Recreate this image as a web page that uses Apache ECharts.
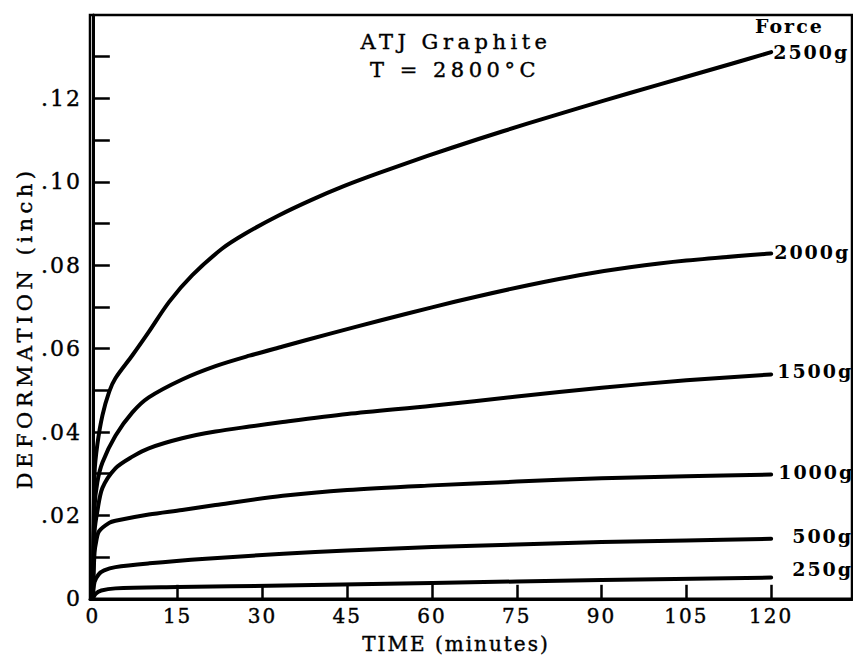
<!DOCTYPE html>
<html>
<head>
<meta charset="utf-8">
<title>ATJ Graphite creep, T = 2800°C</title>
<script src="https://cdn.jsdelivr.net/npm/echarts@6/dist/echarts.min.js"></script>
<style>
  html, body { margin: 0; padding: 0; background: #fff; }
  #chart { width: 853px; height: 659px; }
  /* typewriter-like spacing of the lettering */
  #chart text { letter-spacing: 2px; }
  #chart text[style*="21px"] { letter-spacing: 4.5px; }
</style>
</head>
<body>
<div id="chart"></div>
<script>
// Deformation (inch) against time (minutes) for each applied force
const force2500 = [[0,0],[0.3,0.030],[0.8,0.037],[1.7,0.044],[2.9,0.0497],[4,0.0529],[7,0.0584],[9.9,0.064],[13.5,0.0712],[17.6,0.0776],[22.9,0.084],[27,0.0876],[32.7,0.0918],[38.6,0.0956],[44.5,0.099],[50.4,0.102],[59.2,0.1062],[68.1,0.1102],[77,0.114],[85.8,0.1176],[95,0.1213],[105,0.1252],[113,0.1283],[120,0.1311]];
const force2000 = [[0,0],[0.3,0.022],[0.8,0.028],[1.7,0.0327],[4,0.0391],[7,0.0447],[9.9,0.0483],[15.8,0.0526],[21.7,0.0558],[27.7,0.0583],[33.6,0.0605],[42,0.0636],[51,0.0668],[60,0.0699],[68,0.0725],[77,0.0752],[86,0.0776],[95,0.0795],[105,0.0811],[120,0.0828]];
const force1500 = [[0,0],[0.3,0.016],[0.8,0.021],[1.7,0.0266],[4,0.0313],[7,0.0341],[9.9,0.0361],[15.8,0.0385],[21.7,0.0401],[27.7,0.0413],[33.6,0.0424],[45,0.0443],[60,0.0463],[75,0.0485],[90,0.0506],[105,0.0524],[120,0.0538]];
const force1000 = [[0,0],[0.3,0.011],[0.6,0.0138],[1.1,0.0162],[2.9,0.0182],[4,0.0187],[9.9,0.0202],[15.8,0.0213],[21.7,0.0225],[33.6,0.0247],[45,0.0261],[60,0.0272],[75,0.0281],[90,0.0289],[105,0.0294],[120,0.0298]];
const force500 = [[0,0],[0.3,0.004],[1,0.0058],[2,0.0068],[4,0.0076],[10,0.0085],[20,0.0096],[33.7,0.0108],[45,0.0116],[60,0.0124],[75,0.013],[90,0.0136],[105,0.014],[120,0.0144]];
const force250 = [[0,0],[0.5,0.0012],[1.5,0.002],[4,0.0025],[15,0.0028],[33.7,0.0032],[60,0.0038],[90,0.0045],[120,0.0051]];

const forceNames = ['2500g', '2000g', '1500g', '1000g', '500g', '250g'];
const forceData = [force2500, force2000, force1500, force1000, force500, force250];

// Axis ticks and labels
const timeTicks = [0, 15, 30, 45, 60, 75, 90, 105, 120];
const deformTicks = [0, 0.01, 0.02, 0.03, 0.04, 0.05, 0.06, 0.07, 0.08, 0.09, 0.10, 0.11, 0.12, 0.13];
const deformLabelValues = [0, 0.02, 0.04, 0.06, 0.08, 0.10, 0.12];
const deformLabelText = ['0', '.02', '.04', '.06', '.08', '.10', '.12'];

const FONT = "'DejaVu Serif', 'Liberation Serif', serif";
const INK = '#000';

// end-label nudges [dx, dy] so the force names sit beside each curve
const labelOffsets = [[-6, 0], [-5, -2], [-2, -3], [-1, -3], [13, -3], [13, -9]];

const chart = echarts.init(document.getElementById('chart'), null, { renderer: 'svg' });

chart.setOption({
  animation: false,
  backgroundColor: '#fff',
  grid: {
    left: 90, right: 1, top: 15, bottom: 60,
    show: true, borderColor: INK, borderWidth: 2.5, backgroundColor: 'transparent'
  },
  xAxis: {
    type: 'value',
    min: -0.5, max: 134.3,
    name: 'TIME (minutes)',
    nameLocation: 'middle',
    nameGap: 35,
    nameTextStyle: { fontFamily: FONT, fontSize: 20, color: INK, padding: [0, 30, 0, 0], textBorderColor: INK, textBorderWidth: 0.4 },
    axisLine: { show: true, lineStyle: { color: INK, width: 3 } },
    axisTick: { show: true, inside: true, length: 14, customValues: timeTicks, lineStyle: { color: INK, width: 2.5 } },
    axisLabel: { customValues: timeTicks, fontFamily: FONT, fontSize: 20, color: INK, margin: 7, textBorderColor: INK, textBorderWidth: 0.4 },
    splitLine: { show: false }
  },
  yAxis: {
    type: 'value',
    min: 0, max: 0.14,
    name: 'DEFORMATION (inch)',
    nameLocation: 'middle',
    nameGap: 52,
    nameTextStyle: { fontFamily: FONT, fontSize: 21, color: INK, padding: [0, 42, 0, 0], textBorderColor: INK, textBorderWidth: 0.4 },
    axisLine: { show: true, lineStyle: { color: INK, width: 3 } },
    axisTick: { show: true, inside: true, length: 17, customValues: deformTicks, lineStyle: { color: INK, width: 2.5 } },
    axisLabel: {
      customValues: deformLabelValues,
      fontFamily: FONT, fontSize: 22, color: INK, margin: 8,
      textBorderColor: INK, textBorderWidth: 0.4,
      formatter: function (v) {
        const i = deformLabelValues.findIndex(function (d) { return Math.abs(d - v) < 1e-9; });
        return i >= 0 ? deformLabelText[i] : '';
      }
    },
    splitLine: { show: false }
  },
  graphic: [
    { type: 'text', x: 456, y: 42, style: { text: 'ATJ Graphite', textAlign: 'center', textVerticalAlign: 'middle', font: "21px " + FONT, fill: INK, stroke: INK, lineWidth: 0.4 } },
    { type: 'text', x: 455, y: 70, style: { text: 'T = 2800°C', textAlign: 'center', textVerticalAlign: 'middle', font: "21px " + FONT, fill: INK, stroke: INK, lineWidth: 0.4 } },
    { type: 'text', x: 755, y: 26, style: { text: 'Force', textAlign: 'left', textVerticalAlign: 'middle', font: "bold 19px " + FONT, fill: INK } }
  ],
  series: forceNames.map(function (name, i) {
    return {
      name: name,
      type: 'line',
      data: forceData[i],
      showSymbol: false,
      smooth: 0.3,
      lineStyle: { color: INK, width: 4, cap: 'round', join: 'round' },
      itemStyle: { color: INK },
      z: 3,
      endLabel: {
        show: true,
        formatter: '{a}',
        fontFamily: FONT, fontSize: 19, fontWeight: 'bold', color: INK,
        offset: labelOffsets[i]
      },
      emphasis: { disabled: true }
    };
  })
});
</script>
</body>
</html>
